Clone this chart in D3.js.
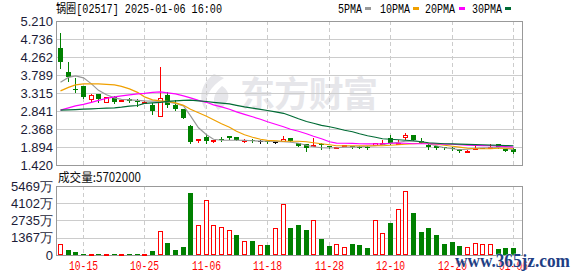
<!DOCTYPE html>
<html>
<head>
  <meta charset="utf-8">
  <title>锅圈 K线</title>
  <script src="https://d3js.org/d3.v7.min.js"></script>
  <style>
    body { margin: 0; background: #fff; }
    svg { display: block; }
    .mono { font-family: "Liberation Mono", "DejaVu Sans Mono", monospace; }
    .axis { font-family: "Liberation Sans", Arial, sans-serif; font-size: 13px; fill: #1c1c38; }
  </style>
</head>
<body>
<script>
// trading days shown (MM-DD)
const dates = ["10-09","10-10","10-14","10-15","10-16","10-17","10-18","10-21","10-22","10-23",
  "10-24","10-25","10-28","10-29","10-30","10-31","11-01","11-04","11-05","11-06",
  "11-07","11-08","11-11","11-12","11-13","11-14","11-15","11-18","11-19","11-20",
  "11-21","11-22","11-25","11-26","11-27","11-28","11-29","12-02","12-03","12-04",
  "12-05","12-06","12-09","12-10","12-11","12-12","12-13","12-16","12-17","12-18",
  "12-19","12-20","12-23","12-24","12-27","12-30","12-31","01-02","01-03","01-06"];

const open  = [4.51,3.88,3.43,3.49,3.17,3.29,3.08,3.22,3.11,3.17,3.10,3.08,3.00,2.70,3.27,3.00,2.90,2.45,2.10,2.155,
  2.08,2.11,2.19,2.16,2.07,2.09,2.05,2.06,2.03,2.06,2.12,2.00,1.96,1.93,1.97,1.91,1.88,1.91,1.92,1.90,
  1.90,1.95,2.00,2.14,1.98,2.15,2.20,2.06,1.95,1.93,1.89,1.86,1.84,1.78,1.85,1.87,1.88,1.98,1.84,1.85];
const high  = [4.90,4.14,3.71,3.49,3.29,3.30,3.21,3.23,3.13,3.19,3.15,3.10,3.05,4.01,3.35,3.12,2.90,2.46,2.11,2.24,
  2.09,2.17,2.19,2.16,2.10,2.10,2.07,2.06,2.04,2.19,2.13,2.01,1.96,2.14,2.00,1.92,1.90,1.95,1.93,1.92,
  1.91,2.01,2.07,2.20,2.09,2.26,2.20,2.12,1.96,1.93,1.90,1.89,1.84,1.81,1.91,1.88,1.98,1.98,1.85,1.86];
const low   = [3.97,3.62,3.33,3.18,3.08,3.09,3.07,3.05,3.10,3.08,2.98,3.04,2.77,2.69,2.94,2.87,2.66,2.00,2.00,2.00,
  2.01,2.04,2.10,2.08,2.01,2.03,2.01,2.00,2.01,2.04,2.04,1.93,1.78,1.89,1.84,1.86,1.84,1.90,1.88,1.88,
  1.83,1.94,1.97,1.97,1.96,2.07,2.07,2.00,1.85,1.84,1.84,1.81,1.76,1.77,1.83,1.86,1.86,1.88,1.79,1.74];
const close = [4.12,3.73,3.42,3.21,3.26,3.15,3.21,3.08,3.12,3.10,3.09,3.09,2.85,3.18,3.00,2.90,2.67,2.02,2.11,2.06,
  2.09,2.10,2.14,2.08,2.08,2.07,2.05,2.02,2.03,2.11,2.05,1.93,1.87,1.94,1.95,1.89,1.89,1.94,1.90,1.89,
  1.86,1.99,2.01,2.00,2.01,2.22,2.07,2.00,1.89,1.87,1.88,1.85,1.80,1.80,1.87,1.87,1.89,1.89,1.80,1.76];

const ma5  = [3.595,3.726,3.766,3.713,3.556,3.385,3.267,3.188,3.148,3.135,3.122,3.109,3.101,3.096,3.083,3.043,2.978,2.715,2.400,2.216,
  2.098,2.071,2.071,2.071,2.066,2.058,2.050,2.045,2.040,2.032,2.019,1.993,1.940,1.901,1.874,1.867,1.874,1.888,1.893,1.901,
  1.914,1.927,1.953,1.993,2.019,2.045,2.045,2.032,1.979,1.927,1.874,1.848,1.822,1.835,1.856,1.867,1.874,1.880,1.861,1.822];
const ma10 = [3.372,3.464,3.529,3.556,3.556,3.556,3.542,3.529,3.490,3.424,3.332,3.214,3.135,3.109,3.096,3.056,2.991,2.886,2.794,2.702,
  2.610,2.505,2.413,2.308,2.216,2.150,2.098,2.066,2.058,2.045,2.045,2.045,2.032,2.006,1.979,1.953,1.927,1.927,1.927,1.927,
  1.927,1.927,1.927,1.940,1.953,1.966,1.979,1.993,1.993,1.966,1.940,1.914,1.888,1.861,1.848,1.848,1.848,1.861,1.861,1.861];
const ma20 = [2.865,2.925,2.978,3.017,3.070,3.122,3.175,3.214,3.240,3.267,3.293,3.306,3.332,3.345,3.319,3.293,3.240,3.188,3.122,3.070,
  3.004,2.951,2.886,2.820,2.754,2.689,2.623,2.557,2.492,2.426,2.360,2.308,2.242,2.176,2.111,2.032,1.998,1.993,1.987,1.979,
  1.974,1.974,1.979,1.993,1.998,1.993,1.979,1.979,1.979,1.974,1.972,1.966,1.953,1.940,1.935,1.932,1.927,1.919,1.906,1.893];
const ma30 = [2.865,2.873,2.880,2.891,2.899,2.907,2.917,2.925,2.943,2.970,2.986,3.043,3.056,3.070,3.096,3.109,3.122,3.127,3.109,3.091,
  3.070,3.049,3.030,2.991,2.951,2.917,2.886,2.854,2.820,2.781,2.715,2.636,2.565,2.518,2.465,2.426,2.387,2.334,2.295,2.242,
  2.190,2.150,2.111,2.098,2.085,2.071,2.058,2.032,2.006,1.993,1.979,1.974,1.969,1.964,1.958,1.953,1.945,1.940,1.932,1.927];

// volume in 万 shares, and its colour (1 red / -1 green)
const volume = [888,416,204,100,90,95,80,90,70,85,90,80,283,1886,990,416,652,4919,2381,4345,
  2381,2200,1964,1595,1124,1124,809,809,2122,4031,2145,2405,1988,2774,1281,731,888,652,888,809,
  574,2774,1776,2514,3638,5052,3348,1855,2169,1595,888,1069,731,629,943,864,864,495,574,570.2];
const volDir = [1,-1,-1,-1,1,-1,1,-1,1,-1,-1,1,-1,1,-1,-1,-1,-1,1,1,
  1,1,1,-1,1,-1,1,-1,1,1,-1,-1,-1,1,-1,-1,1,1,-1,-1,
  -1,1,1,-1,1,1,-1,-1,-1,-1,-1,-1,-1,1,1,1,1,-1,-1,-1];

const priceTicks = [1.420,1.894,2.368,2.841,3.315,3.789,4.262,4.736,5.210];
const volTicks = [0,1367,2735,4102,5469];
const dateTicks = ["10-15","10-25","11-06","11-18","11-28","12-10","12-20","01-06"];
const maNames = ["5PMA","10PMA","20PMA","30PMA"];
const maColors = ["#999999","#f0a000","#ff00ff","#006b35"];

const W = 578, H = 276;
const left = 56, right = 522, slot = 7.68;
const RED = "#ff0000", GREEN = "#008000";

const svg = d3.select("body").append("svg").attr("width", W).attr("height", H);

const x = d3.scaleBand().domain(dates).range([left, left + dates.length * slot]);
const cx = d => Math.round(x(d) + x.bandwidth() / 2);
const y = d3.scaleLinear().domain([1.42, 5.21]).range([165, 21]);
const yv = d3.scaleLinear().domain([0, 5469]).range([255, 186]);

// watermark
svg.append("text").attr("x", 240).attr("y", 107)
  .style("font-family", "Noto Sans CJK SC").style("font-weight", "bold").style("font-size", "35px")
  .attr("fill", "#e6e6ea").attr("textLength", 138).text("东方财富");
svg.append("path").attr("d", "M214,74 C200,84 198,100 206,110 C204,98 210,86 224,78 Z M222,86 C212,94 212,104 218,110 C230,104 232,92 222,86 Z")
  .attr("fill", "#e6e6ea");

// grids
const g = svg.append("g").attr("shape-rendering", "crispEdges");
g.selectAll(".hg").data(priceTicks.slice(1, -1)).join("line")
  .attr("x1", left).attr("x2", right).attr("y1", d => Math.round(y(d)) + 0.5).attr("y2", d => Math.round(y(d)) + 0.5)
  .attr("stroke", "#cccccc");
g.selectAll(".vg").data(volTicks.slice(1, -1)).join("line")
  .attr("x1", left).attr("x2", right).attr("y1", d => Math.round(yv(d)) + 0.5).attr("y2", d => Math.round(yv(d)) + 0.5)
  .attr("stroke", "#cccccc");
dateTicks.forEach(t => {
  [[21, 165], [186, 255]].forEach(([a, b]) => {
    g.append("line").attr("x1", cx(t) + 0.5).attr("x2", cx(t) + 0.5).attr("y1", a).attr("y2", b)
      .attr("stroke", "#cccccc").attr("stroke-dasharray", "4,3");
  });
});

// frames
[[21, 165], [186, 255]].forEach(([a, b]) => {
  g.append("path").attr("d", `M${left + 0.5},${a + 0.5}H${right + 0.5}V${b + 0.5}H${left + 0.5}Z`)
    .attr("fill", "none").attr("stroke", "#999999");
});

// axis labels
svg.selectAll(".pt").data(priceTicks).join("text").attr("class", "axis")
  .attr("x", 53).attr("y", d => y(d)).attr("dy", "0.36em").attr("text-anchor", "end")
  .text(d => d.toFixed(3));
svg.selectAll(".vt").data(volTicks).join("text").attr("class", "axis")
  .attr("x", 53).attr("y", d => yv(d)).attr("dy", "0.36em").attr("text-anchor", "end")
  .text(d => d === 0 ? "0" : d + "万");
svg.selectAll(".dt").data(dateTicks).join("text").attr("class", "mono")
  .attr("x", d => cx(d) + 0.5).attr("y", 270).attr("text-anchor", "middle")
  .style("font-size", "12px").attr("fill", RED).attr("textLength", 29).attr("lengthAdjust", "spacingAndGlyphs")
  .text(d => d);

// candles
const cg = svg.append("g").attr("shape-rendering", "crispEdges");
dates.forEach((d, i) => {
  const c = cx(d);
  const up = close[i] > open[i], flat = close[i] === open[i];
  const col = flat ? "#000000" : (up ? RED : GREEN);
  const top = Math.round(y(Math.max(open[i], close[i])));
  const bot = Math.round(y(Math.min(open[i], close[i])));
  const hi = Math.round(y(high[i])), lo = Math.round(y(low[i]));
  if (up) {
    cg.append("line").attr("x1", c + 0.5).attr("x2", c + 0.5).attr("y1", hi).attr("y2", top).attr("stroke", col);
    cg.append("line").attr("x1", c + 0.5).attr("x2", c + 0.5).attr("y1", bot).attr("y2", lo).attr("stroke", col);
    cg.append("rect").attr("x", c - 1.5).attr("y", top + 0.5).attr("width", 4).attr("height", Math.max(bot - top, 1))
      .attr("fill", "#fff").attr("stroke", col);
  } else {
    cg.append("line").attr("x1", c + 0.5).attr("x2", c + 0.5).attr("y1", hi).attr("y2", lo + 1).attr("stroke", col);
    cg.append("rect").attr("x", c - 2).attr("y", top).attr("width", 5).attr("height", Math.max(bot - top, 1))
      .attr("fill", col);
  }
});

// moving averages
[ma5, ma10, ma20, ma30].forEach((s, k) => {
  const line = d3.line().x((v, i) => cx(dates[i]) + 0.5).y(v => y(v));
  svg.append("path").attr("d", line(s)).attr("fill", "none").attr("stroke", maColors[k]).attr("stroke-width", 1.2);
});

// volume bars
const vg = svg.append("g").attr("shape-rendering", "crispEdges");
dates.forEach((d, i) => {
  const c = cx(d), t = Math.round(yv(volume[i]));
  if (volDir[i] > 0) {
    vg.append("rect").attr("x", c - 1.5).attr("y", t + 0.5).attr("width", 4).attr("height", Math.max(255 - t - 1, 1))
      .attr("fill", "#fff").attr("stroke", RED);
  } else {
    vg.append("rect").attr("x", c - 2).attr("y", t).attr("width", 5).attr("height", Math.max(255 - t, 1))
      .attr("fill", GREEN);
  }
});

// header & legend
svg.append("text").attr("x", 56).attr("y", 12.5)
  .style("font-family", "'Liberation Mono', 'Noto Sans CJK SC'").style("font-size", "12px").attr("fill", "#000")
  .attr("textLength", 166).attr("lengthAdjust", "spacingAndGlyphs").text("锅圈[02517] 2025-01-06 16:00");
const legX = [338, 380, 425, 472], legBox = [365, 413, 459, 505];
maNames.forEach((n, k) => {
  svg.append("text").attr("class", "mono").attr("x", legX[k]).attr("y", 12.5).style("font-size", "12px")
    .attr("textLength", n.length * 6).attr("lengthAdjust", "spacingAndGlyphs").text(n);
  svg.append("rect").attr("x", legBox[k]).attr("y", 7).attr("width", 6).attr("height", 3).attr("fill", maColors[k]);
});
svg.append("text").attr("x", 58).attr("y", 182)
  .style("font-family", "'Noto Sans CJK SC', 'Liberation Sans'").style("font-size", "12.5px").attr("fill", "#111")
  .attr("textLength", 83).attr("lengthAdjust", "spacingAndGlyphs").text("成交量:" + Math.round(volume[volume.length - 1] * 10000));

// site mark
svg.append("text").attr("x", 455).attr("y", 267)
  .style("font-family", "'Liberation Serif', serif").style("font-size", "18px").style("font-weight", "bold")
  .attr("fill", "#1f3f85").attr("stroke", "#fff").attr("stroke-width", 0.6).attr("paint-order", "stroke")
  .attr("textLength", 115).attr("lengthAdjust", "spacingAndGlyphs").text("www.365jz.com");
</script>
</body>
</html>
